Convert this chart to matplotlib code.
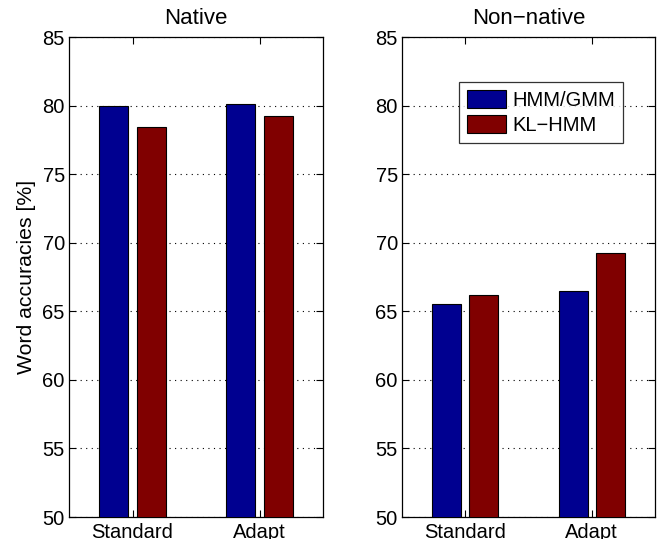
import matplotlib
matplotlib.use("Agg")
import matplotlib.pyplot as plt
import numpy as np

plt.rcParams['font.family'] = ['Liberation Sans', 'DejaVu Sans']

categories = ["Standard", "Adapt"]
series_names = ["HMM/GMM", "KL\u2212HMM"]
native_hmm = [79.97, 80.15]
native_kl = [78.43, 79.25]
nonnative_hmm = [65.55, 66.45]
nonnative_kl = [66.2, 69.25]
yticks = [50, 55, 60, 65, 70, 75, 80, 85]

colors = ["#000090", "#800000"]

fig = plt.figure(figsize=(6.59, 5.39), dpi=100)
W, H = 659, 539
ax1 = fig.add_axes([69 / W, (H - 517) / H, 254 / W, 480 / H])
ax2 = fig.add_axes([402 / W, (H - 517) / H, 253 / W, 480 / H])

x = np.arange(1, len(categories) + 1)
bw = 0.228
off = 0.147

fs = 14.5
tfs = 16
for ax, hmm, kl, title in [(ax1, native_hmm, native_kl, "Native"),
                            (ax2, nonnative_hmm, nonnative_kl, "Non\u2212native")]:
    ax.bar(x - off, hmm, bw, color=colors[0], edgecolor='black', linewidth=0.8,
           label=series_names[0], zorder=3)
    ax.bar(x + off, kl, bw, color=colors[1], edgecolor='black', linewidth=0.8,
           label=series_names[1], zorder=3)
    ax.set_xlim(0.5, 2.5)
    ax.set_ylim(50, 85)
    ax.set_yticks(yticks)
    ax.set_xticks(x)
    ax.set_xticklabels(categories, fontsize=fs)
    ax.tick_params(axis='y', labelsize=fs, pad=3)
    ax.tick_params(direction='in', top=True, right=True, length=5, width=0.8)
    ax.tick_params(axis='x', pad=4.5)
    ax.yaxis.grid(True, linestyle=(0, (1, 4)), color='black', linewidth=0.8, zorder=0)
    ax.set_axisbelow(True)
    for s in ax.spines.values():
        s.set_linewidth(0.9)
    ax.set_title(title, fontsize=tfs, pad=9.4)

ax1.set_ylabel("Word accuracies [%]", fontsize=15.3, labelpad=5)

leg = ax2.legend(loc='upper right', bbox_to_anchor=(0.874, 0.906), fontsize=fs,
                 handlelength=1.95, handleheight=1.0, frameon=True, fancybox=False,
                 borderpad=0.4, labelspacing=0.25, handletextpad=0.3, borderaxespad=0)
leg.get_frame().set_edgecolor('black')
leg.get_frame().set_linewidth(0.9)

fig.savefig("out.png", dpi=100)
